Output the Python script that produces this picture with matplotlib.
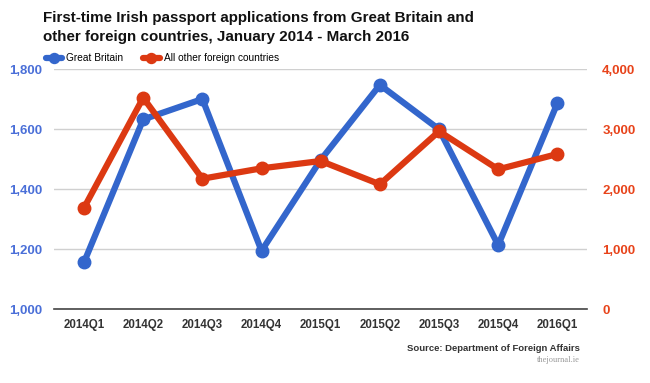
import matplotlib
matplotlib.use("Agg")
import matplotlib.pyplot as plt

plt.rcParams['font.family'] = ['Liberation Sans', 'DejaVu Sans']

# data
quarters = ["2014Q1", "2014Q2", "2014Q3", "2014Q4", "2015Q1",
            "2015Q2", "2015Q3", "2015Q4", "2016Q1"]
great_britain = [1157, 1633, 1701, 1195, 1498, 1748, 1600, 1214, 1687]
other_countries = [1693, 3527, 2177, 2350, 2472, 2083, 2967, 2333, 2588]
left_ticks = [1000, 1200, 1400, 1600, 1800]
right_ticks = [0, 1000, 2000, 3000, 4000]

blue = "#3366cc"
red = "#dc3912"

fig = plt.figure(figsize=(6.5, 3.83), dpi=100)
ax = fig.add_axes([0.0838, 0.1924, 0.8192, 0.6266])
ax2 = ax.twinx()

x = list(range(len(quarters)))
l1, = ax.plot(x, great_britain, color=blue, lw=4.5, marker="o", ms=9,
              solid_capstyle="round", label="Great Britain")
l2, = ax2.plot(x, other_countries, color=red, lw=4.5, marker="o", ms=9,
               solid_capstyle="round", label="All other foreign countries")

ax.set_xlim(-0.5, len(quarters) - 0.5)
ax.set_ylim(1000, 1800)
ax2.set_ylim(0, 4000)
ax.set_yticks(left_ticks)
ax.set_yticklabels([f"{v:,}" for v in left_ticks])
ax2.set_yticks(right_ticks)
ax2.set_yticklabels([f"{v:,}" for v in right_ticks])
ax.set_xticks(x)
ax.set_xticklabels(quarters)

for a in (ax, ax2):
    for s in a.spines.values():
        s.set_visible(False)
    a.tick_params(length=0)
ax.spines["bottom"].set_visible(True)
ax.spines["bottom"].set_color("#444444")
ax.spines["bottom"].set_linewidth(1.2)
ax.grid(axis="y", color="#d0d0d0", lw=1)
ax.set_axisbelow(True)

ax.tick_params(axis="y", labelcolor="#4a6fd8", labelsize=9.5, pad=9)
ax2.tick_params(axis="y", labelcolor="#e8431a", labelsize=9.5, pad=11)
ax.tick_params(axis="x", labelcolor="#333333", labelsize=8.3, pad=7)
for t in ax.get_yticklabels() + ax2.get_yticklabels() + ax.get_xticklabels():
    t.set_fontweight("bold")

fig.text(0.066, 0.972, "First-time Irish passport applications from Great Britain and\n"
         "other foreign countries, January 2014 - March 2016",
         fontsize=10.9, fontweight="bold", color="#111111", va="top",
         linespacing=1.5)

fig.legend(handles=[l1, l2], loc="upper left", bbox_to_anchor=(0.064, 0.872),
           ncol=2, frameon=False, fontsize=7.3, handlelength=1.6,
           columnspacing=2.0, handletextpad=0.4, borderaxespad=0,
           markerscale=0.8)

fig.text(0.892, 0.084, "Source: Department of Foreign Affairs", ha="right",
         fontsize=6.8, fontweight="bold", color="#333333")
fig.text(0.892, 0.055, "thejournal.ie", ha="right", fontsize=6,
         color="#999999", family="Liberation Serif")

fig.savefig("out.png", dpi=100)
